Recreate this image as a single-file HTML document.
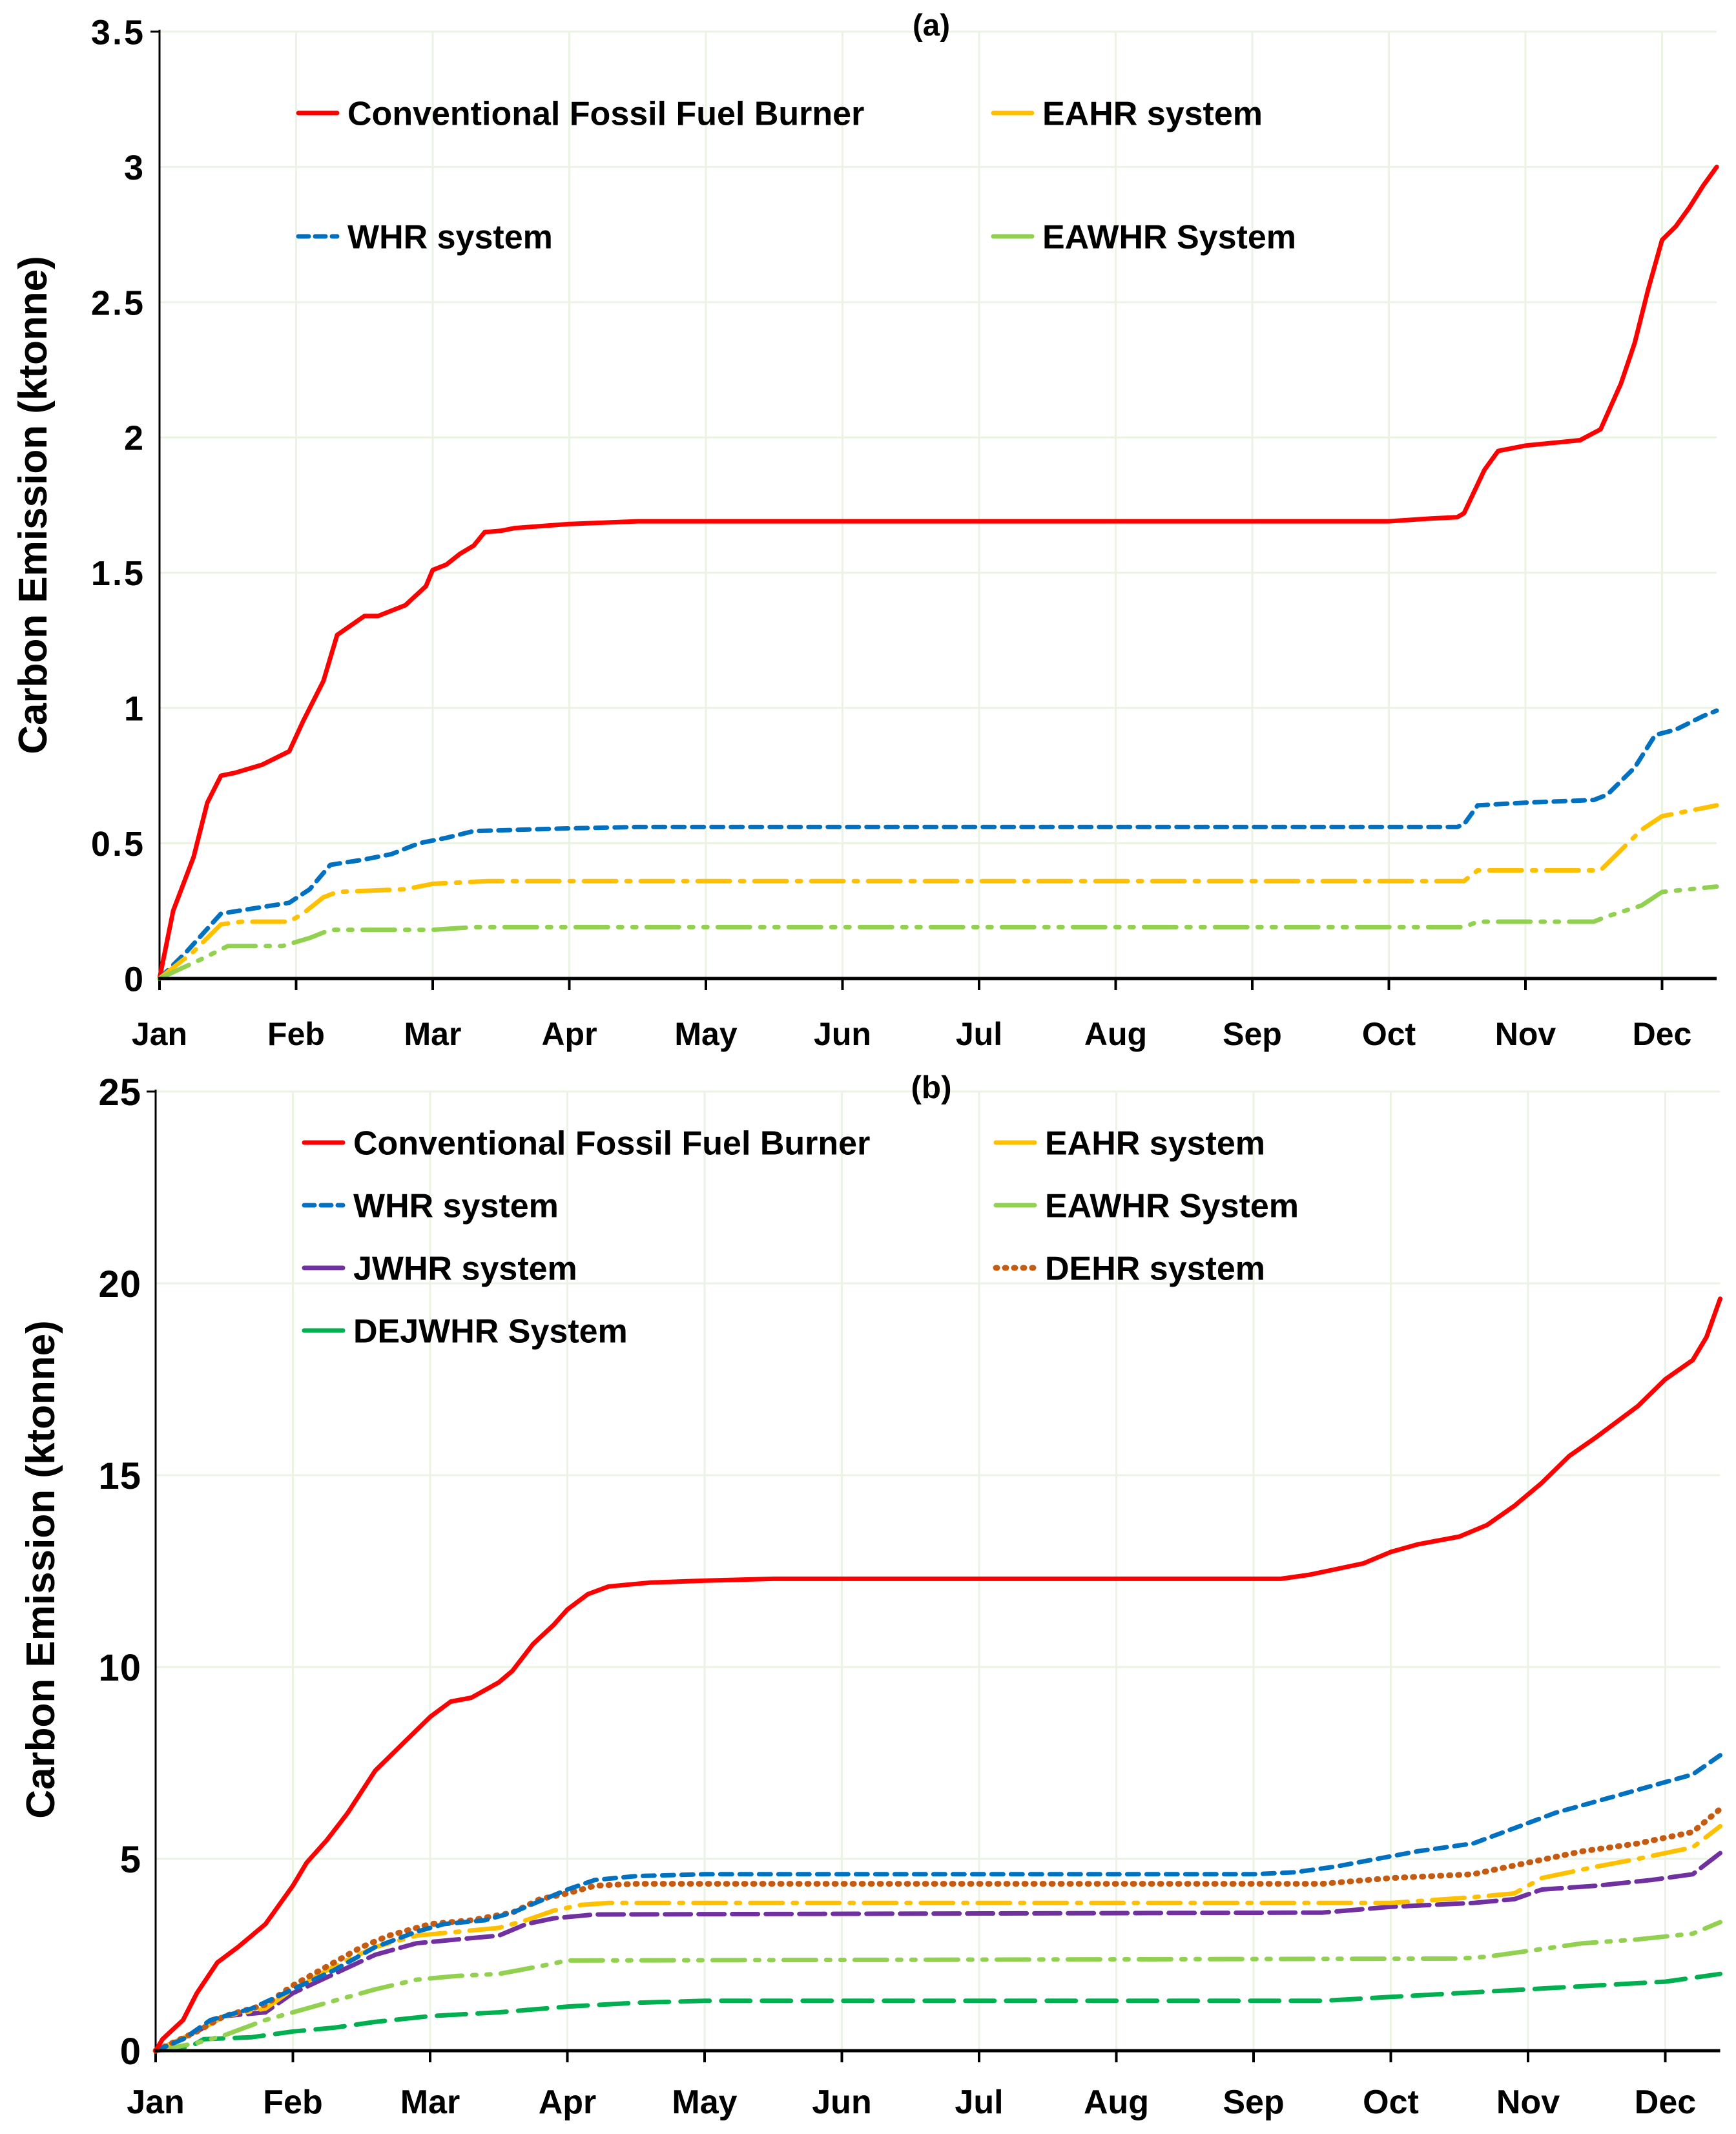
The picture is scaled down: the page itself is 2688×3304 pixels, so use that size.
<!DOCTYPE html>
<html><head><meta charset="utf-8">
<style>
html,body{margin:0;padding:0;background:#fff;}
svg{display:block;}
.t{font-family:"Liberation Sans",sans-serif;font-weight:bold;fill:#000;}
.n{font-family:"Liberation Sans Narrow","Liberation Sans",sans-serif;font-weight:bold;fill:#000;}
</style></head>
<body>
<svg id="fig" width="2688" height="3304" viewBox="0 0 2688 3304" xmlns="http://www.w3.org/2000/svg"></svg>
<script>
const months = ["Jan","Feb","Mar","Apr","May","Jun","Jul","Aug","Sep","Oct","Nov","Dec"];
const ticksA = [0,0.5,1,1.5,2,2.5,3,3.5];
const tickLabelsA = ["0","0.5","1","1.5","2","2.5","3","3.5"];
const ticksB = [0,5,10,15,20,25];
const tickLabelsB = ["0","5","10","15","20","25"];

// Chart (a): [month position, ktonne]
const aCFFB = [[0,0],[0.1,0.25],[0.25,0.45],[0.35,0.65],[0.45,0.75],[0.55,0.76],[0.75,0.79],[0.95,0.84],[1.05,0.95],[1.2,1.1],[1.3,1.27],[1.5,1.34],[1.6,1.34],[1.8,1.38],[1.95,1.45],[2.0,1.51],[2.1,1.53],[2.2,1.57],[2.3,1.60],[2.38,1.65],[2.5,1.655],[2.6,1.665],[3.0,1.68],[3.5,1.69],[9.0,1.69],[9.3,1.70],[9.5,1.705],[9.55,1.72],[9.7,1.88],[9.8,1.95],[10,1.97],[10.4,1.99],[10.55,2.03],[10.7,2.2],[10.8,2.35],[10.9,2.55],[11.0,2.73],[11.1,2.78],[11.2,2.85],[11.3,2.93],[11.4,3.0]];
const aWHR = [[0,0],[0.2,0.1],[0.45,0.24],[0.7,0.26],[0.95,0.28],[1.1,0.33],[1.25,0.42],[1.5,0.44],[1.7,0.46],[1.9,0.5],[2.1,0.52],[2.3,0.545],[3,0.555],[3.5,0.56],[9.5,0.56],[9.55,0.57],[9.65,0.64],[10,0.65],[10.5,0.66],[10.6,0.68],[10.8,0.78],[10.95,0.9],[11.1,0.92],[11.3,0.97],[11.4,0.99]];
const aEAHR = [[0,0],[0.25,0.1],[0.45,0.2],[0.6,0.21],[0.95,0.21],[1.05,0.24],[1.2,0.3],[1.3,0.32],[1.8,0.33],[2.0,0.35],[2.4,0.36],[9.55,0.36],[9.65,0.40],[10.55,0.40],[10.65,0.45],[10.85,0.55],[11.0,0.6],[11.2,0.62],[11.4,0.64]];
const aEAWHR = [[0,0],[0.3,0.07],[0.5,0.12],[0.9,0.12],[1.1,0.15],[1.25,0.18],[2.0,0.18],[2.3,0.19],[9.55,0.19],[9.65,0.21],[10.5,0.21],[10.6,0.23],[10.85,0.27],[11.0,0.32],[11.2,0.33],[11.4,0.34]];

// Chart (b)
const bCFFB = [[0,0],[0.05,0.3],[0.2,0.8],[0.3,1.5],[0.45,2.3],[0.6,2.7],[0.8,3.3],[1.0,4.3],[1.1,4.9],[1.25,5.5],[1.4,6.2],[1.6,7.3],[1.8,8.0],[2.0,8.7],[2.15,9.1],[2.3,9.2],[2.5,9.6],[2.6,9.9],[2.75,10.6],[2.9,11.1],[3.0,11.5],[3.15,11.9],[3.3,12.1],[3.6,12.2],[4.0,12.25],[4.5,12.3],[8.2,12.3],[8.4,12.4],[8.6,12.55],[8.8,12.7],[9.0,13.0],[9.2,13.2],[9.5,13.4],[9.7,13.7],[9.9,14.2],[10.1,14.8],[10.3,15.5],[10.5,16.0],[10.8,16.8],[11.0,17.5],[11.2,18.0],[11.3,18.6],[11.4,19.6]];
const bWHR = [[0,0],[0.2,0.3],[0.4,0.8],[0.7,1.1],[1.0,1.6],[1.3,2.1],[1.6,2.7],[1.9,3.1],[2.1,3.3],[2.4,3.4],[2.6,3.6],[2.8,3.9],[3.0,4.2],[3.2,4.45],[3.5,4.55],[4.0,4.6],[8.0,4.6],[8.3,4.65],[8.6,4.8],[8.9,5.0],[9.2,5.2],[9.6,5.4],[9.9,5.8],[10.2,6.2],[10.6,6.6],[10.9,6.9],[11.2,7.2],[11.4,7.7]];
const bDEHR = [[0,0],[0.3,0.5],[0.5,0.9],[0.8,1.2],[1.0,1.7],[1.3,2.3],[1.5,2.7],[1.7,3.0],[2.0,3.3],[2.3,3.4],[2.6,3.6],[2.8,3.95],[3.0,4.1],[3.2,4.3],[3.5,4.35],[8.5,4.35],[9.0,4.5],[9.6,4.6],[10.0,4.9],[10.4,5.2],[10.8,5.4],[11.2,5.7],[11.4,6.3]];
const bEAHR = [[0,0],[0.3,0.5],[0.5,0.9],[0.8,1.1],[1.0,1.6],[1.3,2.2],[1.6,2.7],[1.9,3.0],[2.2,3.1],[2.5,3.2],[2.7,3.4],[2.9,3.65],[3.1,3.8],[3.3,3.85],[9.0,3.85],[9.6,4.0],[9.9,4.1],[10.1,4.5],[10.5,4.8],[10.8,5.0],[11.2,5.3],[11.4,5.85]];
const bJWHR = [[0,0],[0.3,0.5],[0.5,0.9],[0.8,1.0],[1.0,1.5],[1.3,2.0],[1.6,2.5],[1.9,2.8],[2.2,2.9],[2.5,3.0],[2.7,3.3],[2.9,3.45],[3.2,3.55],[8.5,3.6],[9.0,3.75],[9.6,3.85],[9.9,3.95],[10.1,4.2],[10.5,4.3],[10.9,4.45],[11.2,4.6],[11.4,5.15]];
const bEAWHR = [[0,0],[0.3,0.2],[0.5,0.4],[0.8,0.8],[1.0,1.0],[1.3,1.3],[1.6,1.6],[1.9,1.85],[2.2,1.95],[2.5,2.0],[2.8,2.2],[3.0,2.35],[9.5,2.4],[9.7,2.45],[10.0,2.6],[10.4,2.8],[10.8,2.9],[11.2,3.05],[11.4,3.35]];
const bDEJWHR = [[0,0],[0.25,0.1],[0.35,0.3],[0.7,0.35],[1.0,0.5],[1.3,0.6],[1.6,0.75],[2.0,0.9],[2.5,1.0],[3.0,1.15],[3.5,1.25],[4,1.3],[8.5,1.3],[9,1.4],[9.5,1.5],[10,1.6],[10.5,1.7],[11.0,1.8],[11.4,2.0]];

const NS = "http://www.w3.org/2000/svg";
const svg = document.getElementById("fig");
function mk(tag, attrs, parent){
  const e = document.createElementNS(NS, tag);
  for (const k in attrs) e.setAttribute(k, attrs[k]);
  (parent||svg).appendChild(e);
  return e;
}
const styles = {
  red:{stroke:"#ff0000",dash:""},
  blue:{stroke:"#0070c0",dash:"18 12"},
  yellow:{stroke:"#ffc000",dash:"50 16 6 16"},
  lgreen:{stroke:"#92d050",dash:"50 16 6 16 6 16"},
  purple:{stroke:"#7030a0",dash:"40 12"},
  brown:{stroke:"#c55a11",dash:"2 12"},
  green:{stroke:"#00b050",dash:"45 18"}
};

function drawChart(c){
  const g = mk("g",{});
  
  
  const xs = m => c.x0 + m*c.step;
  const ys = v => c.y0 - (v/c.ymax)*(c.y0-c.y1);
  const xEnd = xs(11.4);
  c.ticks.forEach((t,i)=>{
    const gl = mk("line",{x1:c.x0,x2:xEnd,y1:ys(t),y2:ys(t),stroke:"#eaf3e4","stroke-width":3},g);
    
    
    const tl = mk("text",{x:c.x0-22,y:ys(t)+c.tfs*0.36,"text-anchor":"end","font-size":c.tfs,"letter-spacing":c.tls,class:c.cls},g);
    tl.textContent = c.tickLabels[i];
    
    
  });
  months.forEach((m,i)=>{
    if(i>0){
      const vl = mk("line",{x1:xs(i),x2:xs(i),y1:c.y1,y2:c.y0,stroke:"#eaf3e4","stroke-width":3},g);
      
      
    }
    const tk = mk("line",{x1:xs(i),x2:xs(i),y1:c.y0,y2:c.y0+18,stroke:"#000","stroke-width":4},g);
    
    
    const ml = mk("text",{x:xs(i),y:c.labY,"text-anchor":"middle","font-size":c.fs,class:c.cls},g);
    ml.textContent = m;
    
    
  });
  const ya = mk("line",{x1:c.x0,x2:c.x0,y1:c.y1-3,y2:c.y0,stroke:"#000","stroke-width":3},g);
  
  
  const yt = mk("line",{x1:c.x0-14,x2:c.x0,y1:c.y1,y2:c.y1,stroke:"#000","stroke-width":3},g);
  
  
  c.series.forEach(s=>{
    const st = styles[s.style];
    const d = s.data.map((p,i)=>(i?"L":"M")+xs(p[0]).toFixed(1)+" "+ys(p[1]).toFixed(1)).join(" ");
    const p = mk("path",{d:d,fill:"none",stroke:st.stroke,"stroke-width":s.style==="brown"?9:7,"stroke-linecap":"round","stroke-linejoin":"round","stroke-dasharray":st.dash},g);
    
    
  });
  const xa = mk("line",{x1:c.x0-2,x2:xEnd,y1:c.y0,y2:c.y0,stroke:"#000","stroke-width":5},g);
  
  
  const yl = mk("text",{x:0,y:0,"text-anchor":"middle","font-size":c.yfs,class:"t",transform:`translate(${c.ytx},${c.yty}) rotate(-90)`},g);
  yl.textContent = "Carbon Emission (ktonne)";
  
  
  const pl = mk("text",{x:c.px,y:c.py,"text-anchor":"middle","font-size":c.fs*0.95,class:c.cls},g);
  pl.textContent = c.panel;
  
  
  c.legend.forEach(L=>{
    const st = styles[L.style];
    const lg = mk("g",{},g);
    
    
    mk("line",{x1:L.x,x2:L.x+60,y1:L.y,y2:L.y,stroke:st.stroke,"stroke-width":L.style==="brown"?9:7,"stroke-linecap":"round","stroke-dasharray":L.style==="red"||L.style==="yellow"||L.style==="lgreen"||L.style==="green"||L.style==="purple"?"":(L.style==="brown"?"2 12":"16 10")},lg);
    const lt = mk("text",{x:L.x+76,y:L.y+c.lfs*0.36,"font-size":c.lfs,class:c.cls},lg);
    lt.textContent = L.label;
  });
}

drawChart({name:"chart-a",x0:247,step:211.5,y0:1515,y1:49,ymax:3.5,ticks:ticksA,tickLabels:tickLabelsA,fs:50,tfs:54,tls:3,cls:"t",labY:1618,yfs:62,ytx:72,yty:782,px:1442,py:55,panel:"(a)",lfs:52,
  series:[{name:"series-cffb-a",style:"red",data:aCFFB},{name:"series-whr-a",style:"blue",data:aWHR},{name:"series-eahr-a",style:"yellow",data:aEAHR},{name:"series-eawhr-a",style:"lgreen",data:aEAWHR}],
  legend:[{x:462,y:175,style:"red",label:"Conventional Fossil Fuel Burner"},{x:1538,y:175,style:"yellow",label:"EAHR system"},{x:462,y:366,style:"blue",label:"WHR system"},{x:1538,y:366,style:"lgreen",label:"EAWHR System"}]});

drawChart({name:"chart-b",x0:241,step:212.5,y0:3175,y1:1690,ymax:25,ticks:ticksB,tickLabels:tickLabelsB,fs:52,tfs:58,tls:1,cls:"n",labY:3272,yfs:62,ytx:84,yty:2430,px:1442,py:1700,panel:"(b)",lfs:52,
  series:[{name:"series-dejwhr-b",style:"green",data:bDEJWHR},{name:"series-eawhr-b",style:"lgreen",data:bEAWHR},{name:"series-jwhr-b",style:"purple",data:bJWHR},{name:"series-eahr-b",style:"yellow",data:bEAHR},{name:"series-dehr-b",style:"brown",data:bDEHR},{name:"series-whr-b",style:"blue",data:bWHR},{name:"series-cffb-b",style:"red",data:bCFFB}],
  legend:[{x:471,y:1769,style:"red",label:"Conventional Fossil Fuel Burner"},{x:1542,y:1769,style:"yellow",label:"EAHR system"},{x:471,y:1866,style:"blue",label:"WHR system"},{x:1542,y:1866,style:"lgreen",label:"EAWHR System"},{x:471,y:1963,style:"purple",label:"JWHR system"},{x:1542,y:1963,style:"brown",label:"DEHR system"},{x:471,y:2060,style:"green",label:"DEJWHR System"}]});
</script>
</body></html>
